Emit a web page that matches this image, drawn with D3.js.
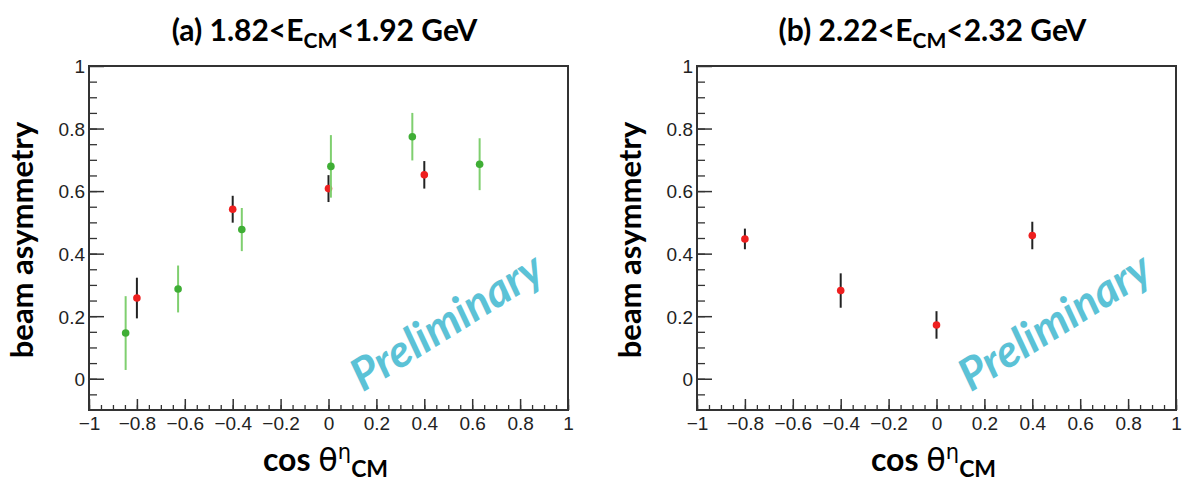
<!DOCTYPE html>
<html>
<head>
<meta charset="utf-8">
<script src="https://d3js.org/d3.v7.min.js"></script>
<style>
    body { margin: 0; background: #fff; }
    .tick text { font-family: "Liberation Sans", Arial, sans-serif; font-size: 19px; fill: #222; }
    .title, .axis-title { font-family: Lato, "Open Sans", sans-serif; font-weight: bold; fill: #000; }
    .prelim { font-family: Lato, "Open Sans", sans-serif; font-weight: bold; font-style: italic; fill: #5bc2d6; }
</style>
</head>
<body>
<script>
// tick labels
var xTicks = [-1, -0.8, -0.6, -0.4, -0.2, 0, 0.2, 0.4, 0.6, 0.8, 1];
var yTicks = [0, 0.2, 0.4, 0.6, 0.8, 1];

// panel (a) 1.82<E<1.92 GeV
var aRedX = [-0.8, -0.4, 0, 0.4];
var aRedY = [0.258, 0.542, 0.608, 0.652];
var aRedErr = [0.065, 0.043, 0.043, 0.044];
var aGreenX = [-0.847, -0.628, -0.362, 0.010, 0.350, 0.631];
var aGreenY = [0.146, 0.287, 0.477, 0.679, 0.774, 0.686];
var aGreenErr = [0.118, 0.075, 0.069, 0.100, 0.076, 0.083];

// panel (b) 2.22<E<2.32 GeV
var bRedX = [-0.8, -0.4, 0, 0.4];
var bRedY = [0.447, 0.282, 0.172, 0.458];
var bRedErr = [0.033, 0.055, 0.044, 0.044];

var W = 1184, H = 484;
var svg = d3.select("body").append("svg").attr("width", W).attr("height", H);
svg.append("rect").attr("width", W).attr("height", H).attr("fill", "#fff");

function zip(xs, ys, es) {
    return xs.map(function(x, i) { return {x: x, y: ys[i], e: es[i]}; });
}

var panels = [
    {left: 89, pre: "(a) 1.82<E", post: "<1.92 GeV",
     series: [
        {pts: zip(aRedX, aRedY, aRedErr), fill: "#ee1f1f", bar: "#222", bw: 2},
        {pts: zip(aGreenX, aGreenY, aGreenErr), fill: "#3fae35", bar: "#7fcf6f", bw: 2}
     ]},
    {left: 697, pre: "(b) 2.22<E", post: "<2.32 GeV",
     series: [
        {pts: zip(bRedX, bRedY, bRedErr), fill: "#ee1f1f", bar: "#222", bw: 2}
     ]}
];

var plotTop = 66, pw = 479, ph = 344;

panels.forEach(function(p) {
    var g = svg.append("g").attr("transform", "translate(" + p.left + "," + plotTop + ")");
    var x = d3.scaleLinear().domain([-1, 1]).range([0, pw]);
    var y = d3.scaleLinear().domain([-0.1, 1]).range([ph, 0]);

    // minor ticks
    g.append("g").attr("transform", "translate(0," + ph + ")")
        .call(d3.axisBottom(x).ticks(40).tickSize(-5).tickFormat(""))
        .call(function(a) { a.select(".domain").remove(); a.selectAll("line").attr("stroke", "#333").attr("stroke-width", 1.3); });
    g.append("g")
        .call(d3.axisLeft(y).tickValues(d3.range(-0.05, 1, 0.05)).tickSize(-8).tickFormat(""))
        .call(function(a) { a.select(".domain").remove(); a.selectAll("line").attr("stroke", "#333").attr("stroke-width", 1.3); });

    // major ticks + labels
    g.append("g").attr("transform", "translate(0," + ph + ")")
        .call(d3.axisBottom(x).tickValues(xTicks).tickSize(-11).tickPadding(7)
            .tickFormat(function(d) { return d < 0 ? "\u2212" + Math.abs(d) : String(d); }))
        .call(function(a) { a.select(".domain").remove(); a.selectAll("line").attr("stroke", "#333").attr("stroke-width", 1.5); });
    g.append("g")
        .call(d3.axisLeft(y).tickValues(yTicks).tickSize(-15).tickPadding(4).tickFormat(function(d) { return String(d); }))
        .call(function(a) {
            a.select(".domain").remove();
            a.selectAll("line").attr("stroke", "#333").attr("stroke-width", 1.5);
            a.selectAll("text").attr("dy", "0.36em");
        });

    // frame
    g.append("rect").attr("width", pw).attr("height", ph)
        .attr("fill", "none").attr("stroke", "#333").attr("stroke-width", 2);

    // watermark
    g.append("text").attr("class", "prelim")
        .attr("transform", "translate(" + (pw * 0.745) + "," + (ph * 0.74) + ") rotate(-32)")
        .attr("text-anchor", "middle").attr("dominant-baseline", "central")
        .style("font-size", "45px")
        .text("Preliminary");

    // data
    p.series.forEach(function(s) {
        var sg = g.append("g");
        sg.selectAll("line").data(s.pts).enter().append("line")
            .attr("x1", function(d) { return x(d.x); })
            .attr("x2", function(d) { return x(d.x); })
            .attr("y1", function(d) { return y(d.y - d.e); })
            .attr("y2", function(d) { return y(d.y + d.e); })
            .attr("stroke", s.bar).attr("stroke-width", s.bw);
        sg.selectAll("circle").data(s.pts).enter().append("circle")
            .attr("cx", function(d) { return x(d.x); })
            .attr("cy", function(d) { return y(d.y); })
            .attr("r", 3.8).attr("fill", s.fill);
    });

    // title
    var t = svg.append("text").attr("class", "title")
        .attr("x", p.left + pw / 2 - 4).attr("y", 41)
        .attr("text-anchor", "middle").style("font-size", "30px");
    t.append("tspan").text(p.pre);
    t.append("tspan").attr("dy", 7).style("font-size", "21px").text("CM");
    t.append("tspan").attr("dy", -7).text(p.post);

    // y title
    svg.append("text").attr("class", "axis-title")
        .attr("transform", "translate(" + (p.left - 56) + "," + (plotTop + ph / 2 + 2) + ") rotate(-90)")
        .attr("text-anchor", "middle").style("font-size", "31px")
        .text("beam asymmetry");

    // x title
    var xt = svg.append("text").attr("class", "axis-title")
        .attr("x", p.left + pw / 2 - 3).attr("y", 471)
        .attr("text-anchor", "middle").style("font-size", "32px");
    xt.append("tspan").text("cos ");
    xt.append("tspan").style("font-weight", "normal").style("font-family", "'DejaVu Sans'").text("\u03b8");
    xt.append("tspan").attr("dy", -12).style("font-weight", "normal").style("font-size", "21px").style("font-family", "'DejaVu Sans'").text("\u03b7");
    xt.append("tspan").attr("dy", 18).style("font-size", "23px").text("CM");
});
</script>
</body>
</html>
